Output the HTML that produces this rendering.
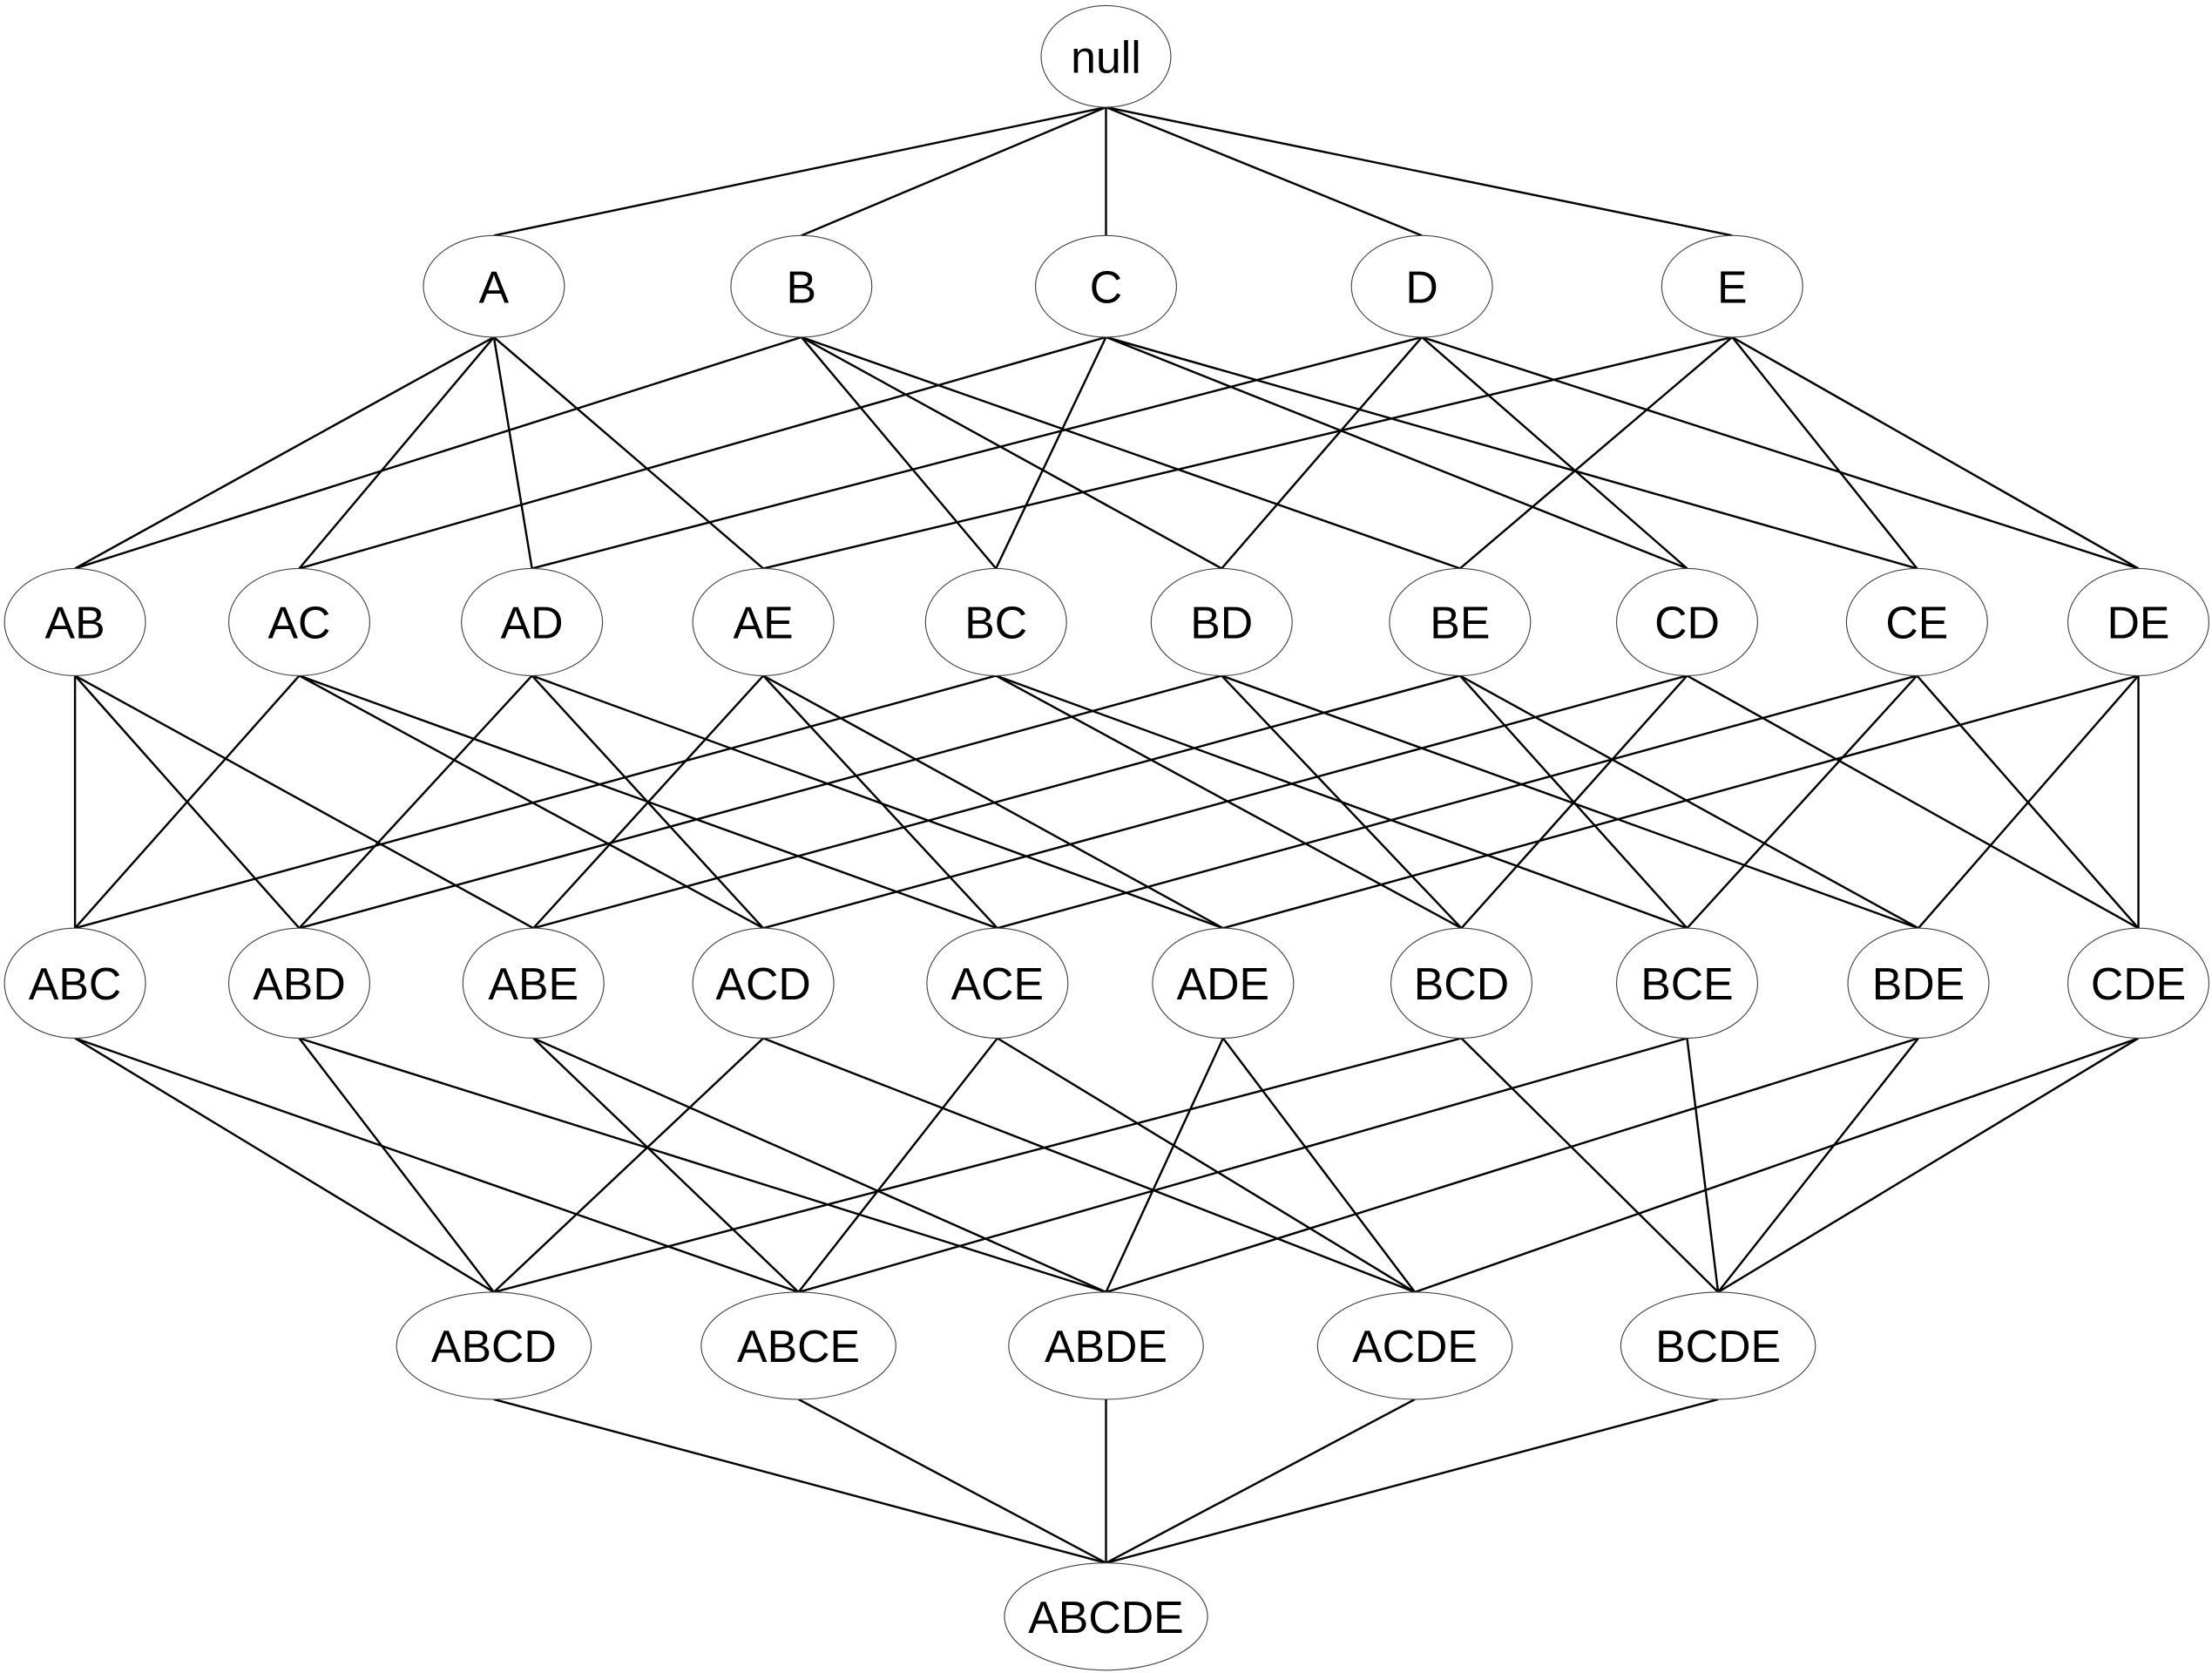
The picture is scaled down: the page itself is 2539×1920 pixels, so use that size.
<!DOCTYPE html>
<html><head><meta charset="utf-8"><style>html,body{margin:0;padding:0;background:#fff;}svg{display:block;}</style></head>
<body>
<svg id="s" width="2539" height="1920" viewBox="0 0 1568 1186" xmlns="http://www.w3.org/2000/svg">
<g id="edges" stroke="#000" stroke-width="1.5"></g>
<g id="nodes" font-family="Liberation Sans, sans-serif" font-size="32" text-anchor="middle"></g>
</svg>
<script>
const rows=[
 {y:40,ry:36,rx:46,n:[["null",784]]},
 {y:203,ry:36,rx:50,n:[["A",350],["B",568],["C",784],["D",1008],["E",1228]]},
 {y:441,ry:38,rx:50,n:[["AB",53],["AC",212],["AD",377],["AE",541],["BC",706],["BD",866],["BE",1035],["CD",1196],["CE",1359],["DE",1516]]},
 {y:697,ry:39,rx:50,n:[["ABC",53],["ABD",212],["ABE",378],["ACD",541],["ACE",707],["ADE",867],["BCD",1036],["BCE",1196],["BDE",1360],["CDE",1516]]},
 {y:954,ry:38,rx:69,n:[["ABCD",350],["ABCE",566],["ABDE",784],["ACDE",1003],["BCDE",1218]]},
 {y:1146,ry:38,rx:72,n:[["ABCDE",784]]}
];
const NS="http://www.w3.org/2000/svg";
const E=document.getElementById("edges"),N=document.getElementById("nodes");
function sub(a,b){if(a==="null")return true;for(const c of a)if(!b.includes(c))return false;return true;}
for(let i=0;i<rows.length-1;i++){
 const r=rows[i],s=rows[i+1];
 for(const [a,x1] of r.n)for(const [b,x2] of s.n){
  if(sub(a,b)){const l=document.createElementNS(NS,"line");
   l.setAttribute("x1",x1);l.setAttribute("y1",r.y+r.ry);l.setAttribute("x2",x2);l.setAttribute("y2",s.y-s.ry);E.appendChild(l);}
 }
}
for(const r of rows)for(const [t,x] of r.n){
 const e=document.createElementNS(NS,"ellipse");
 e.setAttribute("cx",x);e.setAttribute("cy",r.y);e.setAttribute("rx",r.rx);e.setAttribute("ry",r.ry);
 e.setAttribute("fill","#fff");e.setAttribute("stroke","#444");e.setAttribute("stroke-width","0.7");N.appendChild(e);
 const tx=document.createElementNS(NS,"text");tx.setAttribute("x",x);tx.setAttribute("y",r.y+11.5);tx.textContent=t;N.appendChild(tx);
}
</script>
</body></html>
